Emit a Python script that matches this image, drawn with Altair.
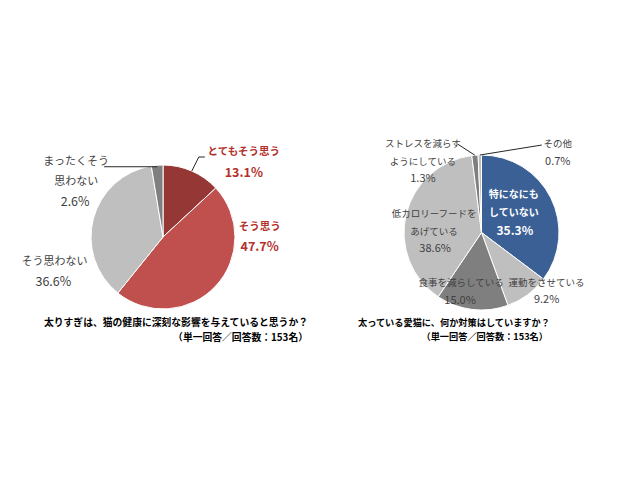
import math
import altair as alt
import pandas as pd

# ---------------- data ----------------
q1_cats = ["とてもそう思う", "そう思う", "そう思わない", "まったくそう思わない"]
q1_disp = ["とてもそう思う", "そう思う", "そう思わない", "まったくそう\n思わない"]
q1_vals = [13.1, 47.7, 36.6, 2.6]
q1_title = ["太りすぎは、猫の健康に深刻な影響を与えていると思うか？", "（単一回答／回答数：153名）"]

q2_cats = ["特になにもしていない", "運動をさせている", "食事を減らしている",
           "低カロリーフードをあげている", "ストレスを減らすようにしている", "その他"]
q2_disp = ["特になにも\nしていない", "運動をさせている", "食事を減らしている",
           "低カロリーフードを\nあげている", "ストレスを減らす\nようにしている", "その他"]
q2_vals = [35.3, 9.2, 15.0, 38.6, 1.3, 0.7]
q2_title = ["太っている愛猫に、何か対策はしていますか？", "（単一回答／回答数：153名）"]

# ---------------- styles ----------------
FONT = "Noto Sans CJK JP"
q1_colors = ["#953735", "#C0504D", "#BFBFBF", "#7F7F7F"]
q2_colors = ["#3A6095", "#BFBFBF", "#7F7F7F", "#BFBFBF", "#7F7F7F", "#BFBFBF"]
RED_TXT = "#B3302C"
GRAY_TXT = "#3F3F3F"

# pie geometry (chart coordinates)
L_CX, L_CY, L_R = 155, 229, 72
R_CX, R_CY, R_R = 473.5, 224.5, 77.5


def make_df(cats, disp, vals):
    return pd.DataFrame({
        "idx": list(range(len(cats))),
        "cat": cats,
        "value": vals,
        "name": disp,
        "pct": [f"{v:.1f}%" for v in vals],
    })


df1 = make_df(q1_cats, q1_disp, q1_vals)
df2 = make_df(q2_cats, q2_disp, q2_vals)


def pie(df, cx, cy, r, cats, colors):
    return alt.Chart(df).mark_arc(outerRadius=r, stroke="white", strokeWidth=1).encode(
        x=alt.value(cx), y=alt.value(cy),
        theta=alt.Theta("value:Q", stack=True),
        color=alt.Color("cat:N", scale=alt.Scale(domain=cats, range=colors), legend=None),
        order=alt.Order("idx:Q"),
    )


def label(df, cx, cy, r, cat, field, dx, dy, color, weight, size, lh):
    # text anchored at the slice's mid-angle on the rim, then offset
    return alt.Chart(df).mark_text(
        radius=r, dx=dx, dy=dy, font=FONT, fontSize=size, fontWeight=weight,
        color=color, lineHeight=lh, lineBreak="\n", align="center", baseline="middle",
    ).encode(
        x=alt.value(cx), y=alt.value(cy),
        theta=alt.Theta("value:Q", stack=True),
        detail="cat:N",
        order=alt.Order("idx:Q"),
        text=alt.condition(alt.datum.cat == cat, alt.Text(f"{field}:N"), alt.value("")),
    )


def rim(cx, cy, r, vals, i):
    total = sum(vals)
    frac = (sum(vals[:i]) + vals[i] / 2) / total
    a = 2 * math.pi * frac
    return cx + r * math.sin(a), cy - r * math.cos(a)


# leader lines (start at slice rim point computed from data)
segs = []
px, py = rim(L_CX, L_CY, L_R, q1_vals, 3)
segs.append((px, py + 1.5, px - 53, py + 1.5))
px, py = rim(L_CX, L_CY, L_R, q1_vals, 0)
segs.append((px, py, px + 7, py - 14))
segs.append((px + 7, py - 14, px + 13, py - 14))
px, py = rim(R_CX, R_CY, R_R, q2_vals, 4)
segs.append((px, py, px - 17, py - 11))
px, py = rim(R_CX, R_CY, R_R, q2_vals, 5)
segs.append((px, py, px + 62, py - 10))
seg_df = pd.DataFrame(segs, columns=["x", "y", "x2", "y2"])

leaders = alt.Chart(seg_df).mark_rule(color="#262626", strokeWidth=1).encode(
    x=alt.X("x:Q", scale=None), y=alt.Y("y:Q", scale=None),
    x2="x2:Q", y2="y2:Q",
)

LN, LP = 11, 12.5      # left name / percent font sizes
RN, RP = 9.5, 11       # right name / percent font sizes

left = alt.layer(
    pie(df1, L_CX, L_CY, L_R, q1_cats, q1_colors),
    label(df1, L_CX, L_CY, L_R, q1_cats[0], "name", 52, -19, RED_TXT, "bold", 10.5, 20),
    label(df1, L_CX, L_CY, L_R, q1_cats[0], "pct", 52, 2, RED_TXT, "bold", LP, 20),
    label(df1, L_CX, L_CY, L_R, q1_cats[1], "name", 44, -59, RED_TXT, "bold", 10.5, 20),
    label(df1, L_CX, L_CY, L_R, q1_cats[1], "pct", 44, -39, RED_TXT, "bold", LP, 20),
    label(df1, L_CX, L_CY, L_R, q1_cats[2], "name", -39, 43.5, GRAY_TXT, "normal", LN, 20),
    label(df1, L_CX, L_CY, L_R, q1_cats[2], "pct", -40, 63.5, GRAY_TXT, "normal", LP, 20),
    label(df1, L_CX, L_CY, L_R, q1_cats[3], "name", -81, -3, GRAY_TXT, "normal", LN, 20),
    label(df1, L_CX, L_CY, L_R, q1_cats[3], "pct", -82, 37, GRAY_TXT, "normal", LP, 20),
)

right = alt.layer(
    pie(df2, R_CX, R_CY, R_R, q2_cats, q2_colors),
    label(df2, R_CX, R_CY, R_R, q2_cats[0], "name", -37, -3, "white", "bold", 10, 18),
    label(df2, R_CX, R_CY, R_R, q2_cats[0], "pct", -36, 33, "white", "bold", 12, 18),
    label(df2, R_CX, R_CY, R_R, q2_cats[1], "name", 19, -12, GRAY_TXT, "normal", RN, 17.5),
    label(df2, R_CX, R_CY, R_R, q2_cats[1], "pct", 19, 5, GRAY_TXT, "normal", RP, 17.5),
    label(df2, R_CX, R_CY, R_R, q2_cats[2], "name", -11, -26, GRAY_TXT, "normal", RN, 17.5),
    label(df2, R_CX, R_CY, R_R, q2_cats[2], "pct", -12, -8, GRAY_TXT, "normal", RP, 17.5),
    label(df2, R_CX, R_CY, R_R, q2_cats[3], "name", 28, -0.5, GRAY_TXT, "normal", RN, 17.5),
    label(df2, R_CX, R_CY, R_R, q2_cats[3], "pct", 29, 34.5, GRAY_TXT, "normal", RP, 17.5),
    label(df2, R_CX, R_CY, R_R, q2_cats[4], "name", -52, -11, GRAY_TXT, "normal", RN, 17.5),
    label(df2, R_CX, R_CY, R_R, q2_cats[4], "pct", -52, 24, GRAY_TXT, "normal", RP, 17.5),
    label(df2, R_CX, R_CY, R_R, q2_cats[5], "name", 78, -11, GRAY_TXT, "normal", RN, 17.5),
    label(df2, R_CX, R_CY, R_R, q2_cats[5], "pct", 78, 7, GRAY_TXT, "normal", RP, 17.5),
)

one = pd.DataFrame({"a": [0]})


def title_text(txt, x, y, align, size):
    return alt.Chart(one).mark_text(
        text=txt, font=FONT, fontSize=size, fontWeight="bold", color="#000000",
        align=align, baseline="middle",
    ).encode(x=alt.value(x), y=alt.value(y))


titles = alt.layer(
    title_text(q1_title[0], 300, 315, "right", 9.8),
    title_text(q1_title[1], 300, 330, "right", 9.8),
    title_text(q2_title[0], 350, 315, "left", 9.2),
    title_text(q2_title[1], 540, 329, "right", 9.2),
)

chart = alt.layer(left, right, leaders, titles).resolve_scale(
    theta="independent", color="independent"
).properties(
    width=624, height=464, padding=0, autosize=alt.AutoSizeParams(type="none"),
    background="white",
).configure_view(stroke=None)

chart.save("out.html", embed_options={"renderer": "svg", "actions": False})
